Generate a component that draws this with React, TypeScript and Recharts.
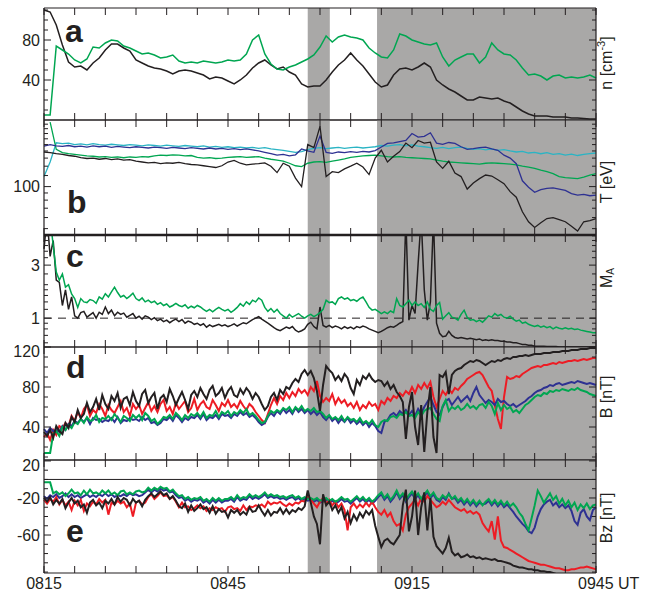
import React from 'react';
import { LineChart, Line, XAxis, YAxis, ReferenceArea, ReferenceLine } from 'recharts';

const INK = '#231f20';
const GREEN = '#00a651';
const RED = '#ed1c24';
const BLUE = '#2e3192';
const CYAN = '#2ab4c4';
const SHADE = '#a9a8a7';
const FONT = '"Liberation Sans", Arial, Helvetica, sans-serif';
const PAD = 20;

// time in minutes after 0815 UT
const timeTicks = [0, 5, 10, 15, 20, 25, 30, 35, 40, 45, 50, 55, 60, 65, 70, 75, 80, 85, 90];
const timeLabels: Record<number, string> = { 0: '0815', 30: '0845', 60: '0915', 90: '0945 UT' };
const shaded = [[43.0, 46.6], [54.3, 90]];

const minutes = Array.from({ length: 91 }, (_, i) => i);
const halfMinutes = Array.from({ length: 181 }, (_, i) => i / 2);

// a: density n [cm^-3], 1 min
const nBlack = [
  110, 108, 95, 75, 58, 53, 54, 50, 57, 62,
  70, 76, 76, 72, 69, 60, 57, 54, 52, 51,
  49, 46, 49, 50, 49, 47, 45, 41, 43, 42,
  39, 36, 40, 45, 52, 57, 60, 55, 51, 53,
  48, 45, 36, 33, 34, 34, 40, 48, 55, 60,
  67, 60, 54, 46, 38, 33, 35, 45, 51, 52,
  50, 53, 57, 53, 40, 35, 31, 28, 24, 20,
  20, 23, 22, 21, 22, 19, 17, 13, 9, 6,
  4, 4, 4, 3, 3, 3, 2, 2, 1.5, 1, 1,
];
const nGreen = [
  5, 5, 74, 70, 66, 60, 57, 61, 73, 72,
  77, 80, 79, 74, 72, 69, 66, 67, 65, 62,
  63, 65, 59, 57, 58, 57, 59, 58, 57, 58,
  60, 59, 60, 66, 80, 85, 66, 56, 51, 50,
  53, 55, 58, 61, 65, 73, 84, 78, 83, 85,
  83, 82, 80, 72, 67, 63, 62, 70, 86, 84,
  80, 78, 76, 75, 77, 63, 54, 60, 63, 66,
  66, 57, 63, 77, 70, 66, 65, 60, 52, 45,
  46, 44, 40, 44, 45, 42, 43, 42, 43, 45, 42,
];

// b: temperature T [eV], 1 min
const tCyan = [
  118, 150, 206, 203, 205, 200, 202, 199, 203, 200,
  198, 201, 199, 197, 200, 198, 196, 199, 197, 195,
  198, 196, 194, 197, 195, 193, 196, 192, 194, 191,
  193, 190, 192, 189, 191, 188, 190, 186, 184, 182,
  179, 176, 178, 184, 188, 190, 187, 189, 191, 188,
  190, 192, 189, 191, 193, 197, 195, 198, 200, 196,
  199, 195, 193, 190, 188, 191, 187, 190, 192, 188,
  185, 187, 183, 186, 182, 184, 180, 177, 179, 174,
  176, 172, 175, 170, 172, 168, 171, 167, 170, 172, 174,
];
const tBlue = [
  195, 200, 196, 194, 197, 193, 195, 192, 196, 193,
  195, 191, 194, 192, 190, 193, 191, 189, 192, 190,
  188, 191, 189, 187, 190, 188, 186, 189, 186, 188,
  185, 187, 184, 186, 183, 180, 176, 172, 168, 170,
  166, 169, 186, 180, 176, 230, 176, 173, 177, 175,
  178, 176, 179, 177, 181, 192, 204, 206, 210, 214,
  240, 226, 229, 243, 205, 201, 207, 204, 193, 185,
  187, 190, 192, 186, 182, 168, 160, 146, 110, 99,
  91, 95, 97, 98, 96, 94, 89, 87, 88, 86, 87,
];
const tGreen = [
  null, 290, 185, 175, 172, 170, 168, 166, 165, 163,
  164, 162, 163, 161, 163, 162, 164, 163, 166, 168,
  167, 169, 168, 166, 167, 162, 160, 161, 159, 160,
  162, 163, 164, 162, 163, 164, 160, 157, 155, 152,
  147, 141, 139, 147, 150, 151, 149, 152, 155, 158,
  162, 164, 166, 167, 168, 166, 164, 163, 164, 162,
  161, 160, 159, 158, 155, 152, 150, 149, 148, 147,
  146, 145, 147, 148, 147, 146, 145, 143, 140, 138,
  135, 131, 128, 124, 118, 116, 115, 114, 117, 121, 124,
];
const tBlack = [
  177, 175, 172, 170, 167, 165, 161, 159, 160, 157,
  159, 156, 158, 155, 156, 152, 150, 148, 149, 146,
  148, 147, 149, 146, 144, 143, 141, 139, 137, 141,
  150, 154, 147, 143, 145, 146, 148, 140, 126, 147,
  140, 115, 100, 200, 190, 270, 118, 128, 126, 134,
  140, 147, 138, 122, 160, 182, 150, 165, 178, 205,
  190, 214, 205, 208, 150, 135, 152, 125, 118, 96,
  106, 114, 121, 119, 112, 105, 92, 84, 66, 56,
  51, 55, 59, 60, 58, 56, 52, 48, 56, 57, 59,
];

// c: Alfven Mach number, 0.5 min
const maBlack = [
  4.2, 8, 3.6, 5, 2.2, 2.1, 1.3, 1.8, 1.2, 1.55,
  1.05, 1.0, 1.12, 1.15, 1.02, 1.07, 1.12, 1.0, 1.13, 1.08,
  1.26, 1.1, 1.18, 1.05, 1.13, 1.08, 1.11, 1.02, 1.06, 1.1,
  1.0, 1.04, 0.98, 1.05, 1.02, 0.97, 1.01, 0.95, 0.98, 0.93,
  0.96, 0.91, 0.95, 0.98, 0.93, 0.97, 0.9, 0.94, 0.92, 0.88,
  0.9, 0.86, 0.89, 0.83, 0.87, 0.84, 0.86, 0.88, 0.85, 0.87,
  0.84, 0.86, 0.89, 0.85, 0.88, 0.91, 0.89, 0.93, 0.97, 1.0,
  1.03, 0.98, 0.94, 0.9, 0.86, 0.82, 0.79, 0.77, 0.8, 0.83,
  0.81, 0.84, 0.78, 0.75, 0.77, 0.8, 0.88, 0.92, 0.84, 0.8,
  1.26, 0.86, 0.83, 0.86, 0.82, 0.85, 0.83, 0.8, 0.84, 0.81,
  0.83, 0.8, 0.84, 0.82, 0.85, 0.83, 0.8, 0.78, 0.76, 0.74,
  0.76, 0.79, 0.82, 0.84, 0.83, 0.86, 0.9, 0.93, 8, 0.96,
  1.3, 1.1, 3.1, 8, 1.8, 0.96, 1.4, 8, 0.9, 0.73,
  0.68, 0.69, 0.76, 0.7, 0.67, 0.66, 0.67, 0.66, 0.65, 0.66,
  0.65, 0.64, 0.65, 0.63, 0.64, 0.63, 0.64, 0.63, 0.63, 0.62,
  0.62, 0.61, 0.61, 0.6, 0.6, 0.59, 0.58, 0.58, 0.57, 0.57,
  0.56, 0.56, 0.56, 0.56, 0.555, 0.555, 0.555, 0.555, 0.55, 0.55,
  0.55, 0.55, 0.55, 0.55, 0.55, 0.55, 0.55, 0.55, 0.55, 0.55, 0.55,
];
const maGreen = [
  null, null, 8, 4.5, 2.6, 2.2, 2.5, 1.9, 2.0, 1.65,
  1.5, 1.25, 1.5, 1.4, 1.38, 1.47, 1.44, 1.36, 1.55, 1.48,
  1.66, 1.55, 1.72, 1.9, 1.7, 1.55, 1.6, 1.5, 1.58, 1.68,
  1.5, 1.44, 1.52, 1.4, 1.45, 1.38, 1.42, 1.33, 1.38, 1.3,
  1.34, 1.26, 1.3, 1.36, 1.3, 1.27, 1.32, 1.23, 1.28, 1.24,
  1.3, 1.26, 1.2, 1.15, 1.2, 1.14, 1.2, 1.25, 1.2, 1.16,
  1.2, 1.13, 1.18, 1.25, 1.35, 1.28, 1.4, 1.33, 1.45, 1.4,
  1.52, 1.45, 1.25, 1.15, 1.22, 1.13, 1.2, 1.1, 1.05, 1.0,
  1.08, 1.02, 1.06, 1.1, 1.04, 1.0, 1.05, 1.08, 1.03, 1.07,
  1.12, 1.2, 1.45, 1.38, 1.4, 1.33, 1.5, 1.55, 1.48, 1.52,
  1.44, 1.47, 1.42, 1.5, 1.55, 1.4, 1.25, 1.18, 1.2, 1.15,
  1.1, 1.14, 1.1, 1.16, 1.12, 1.5, 1.3, 1.26, 1.35, 1.45,
  1.3, 1.4, 1.3, 1.35, 1.25, 1.4, 1.2, 1.15, 1.3, 1.38,
  0.98, 1.05, 1.12, 1.02, 1.0, 0.96, 1.08, 1.18, 1.02, 0.96,
  0.97, 0.93, 0.96, 0.92, 0.98, 1.05, 1.02, 1.1, 1.05, 1.08,
  1.02, 1.0, 1.04, 0.98, 0.94, 0.96, 0.9, 0.92, 0.88, 0.86,
  0.84, 0.86, 0.83, 0.85, 0.82, 0.84, 0.8, 0.83, 0.81, 0.8,
  0.82, 0.8, 0.81, 0.79, 0.8, 0.78, 0.77, 0.76, 0.75, 0.74, 0.74,
];

// d: field magnitude and components B [nT], 0.5 min
const bBlack = [
  35, 31, 37, 29, 41, 36, 33, 44, 39, 50,
  45, 57, 49, 53, 64, 55, 60, 68, 57, 72,
  63, 58, 71, 66, 74, 59, 68, 70, 62, 75,
  66, 61, 73, 77, 64, 70, 74, 58, 69, 72,
  65, 78, 71, 62, 69, 75, 67, 58, 72, 76,
  70, 79, 73, 68, 77, 81, 71, 74, 79, 69,
  76, 80, 72, 70, 78, 73, 79, 75, 68, 74,
  70, 63, 57, 61, 70, 74, 67, 77, 73, 80,
  78, 84, 88, 85, 93, 97, 92, 96, 89, 76,
  56, 82, 101, 97, 94, 87, 91, 86, 93, 89,
  79, 73, 87, 82, 91, 88, 93, 88, 85, 87,
  86, 81, 85, 78, 82, 75, 71, 65, 28, 60,
  75, 40, 22, 62, 15, 55, 80, 30, 14, 92,
  90, 95, 73, 92, 96, 98, 99, 102, 104, 106,
  105, 107, 106, 104, 102, 104, 106, 105, 107, 106,
  108, 109, 108, 110, 110, 111, 111, 112, 111, 112,
  113, 113, 113, 114, 114, 114, 115, 115, 115, 116,
  116, 116, 117, 117, 117, 118, 118, 118, 119, 119, 119,
];
const bRed = [
  30, 34, 27, 37, 32, 41, 39, 44, 41, 51,
  46, 55, 49, 58, 62, 51, 57, 54, 63, 58,
  51, 62, 57, 54, 60, 66, 55, 59, 51, 63,
  58, 62, 53, 59, 65, 56, 61, 55, 63, 67,
  56, 60, 53, 64, 58, 62, 66, 55, 59, 68,
  57, 63, 66, 60, 58, 67, 62, 56, 64, 61,
  67, 60, 63, 59, 66, 61, 57, 63, 60, 55,
  51, 47, 44, 53, 62, 69, 63, 71, 67, 74,
  69, 75, 71, 78, 74, 77, 72, 80, 76, 86,
  71, 65, 69, 66, 73, 63, 69, 64, 67, 61,
  64, 59, 65, 57, 62, 59, 65, 61, 63, 57,
  66, 63, 69, 66, 71, 69, 74, 71, 76, 73,
  80, 74, 82, 78, 84, 79, 85, 70, 60, 68,
  76, 72, 78, 74, 79, 77, 81, 84, 88, 90,
  92, 94, 95, 92, 86, 80, 76, 62, 48, 38,
  70, 90, 88, 89, 91, 90, 93, 95, 97, 99,
  100, 101, 100, 102, 102, 103, 104, 103, 105, 104,
  105, 106, 106, 107, 106, 107, 108, 107, 108, 109, 109,
];
const bGreen = [
  14, 14, 14, 33, 36, 31, 40, 37, 42, 39,
  45, 43, 48, 44, 50, 46, 47, 52, 45, 49,
  48, 51, 47, 53, 49, 45, 51, 49, 46, 52,
  49, 52, 47, 54, 51, 46, 48, 43, 46, 50,
  49, 52, 48, 54, 51, 47, 52, 49, 53, 51,
  54, 50, 55, 49, 52, 51, 56, 50, 55, 53,
  56, 51, 55, 53, 57, 54, 58, 52, 54, 51,
  47, 44, 45, 51, 56, 54, 57, 55, 59, 57,
  60, 55, 60, 57, 61, 56, 58, 56, 59, 55,
  56, 53, 49, 52, 48, 50, 47, 51, 46, 50,
  47, 48, 45, 49, 44, 46, 43, 47, 42, 40,
  45, 47, 46, 50, 51, 49, 53, 52, 55, 51,
  52, 49, 55, 51, 56, 58, 59, 53, 48, 46,
  61, 67, 56, 60, 58, 61, 57, 59, 63, 59,
  61, 58, 62, 63, 59, 65, 61, 53, 64, 57,
  62, 58, 60, 55, 57, 54, 58, 62, 64, 67,
  70, 72, 71, 74, 73, 76, 75, 77, 76, 78,
  77, 76, 78, 77, 79, 77, 76, 75, 73, 72, 71,
];
const bBlue = [
  38, 34, 39, 36, 37, 35, 41, 37, 43, 41,
  46, 44, 48, 45, 49, 43, 49, 47, 48, 45,
  47, 46, 49, 45, 50, 44, 47, 46, 49, 47,
  48, 46, 50, 47, 49, 44, 45, 42, 44, 48,
  47, 50, 46, 52, 49, 45, 49, 47, 50, 49,
  52, 48, 53, 47, 50, 49, 52, 48, 53, 51,
  52, 49, 53, 51, 55, 52, 54, 50, 52, 49,
  45, 42, 44, 50, 54, 51, 56, 53, 58, 54,
  57, 53, 59, 55, 58, 54, 57, 53, 56, 52,
  55, 50, 47, 51, 46, 49, 44, 48, 45, 49,
  44, 47, 43, 46, 42, 45, 40, 44, 41, 36,
  34, 45, 47, 52, 54, 51, 56, 53, 57, 52,
  56, 51, 58, 53, 60, 65, 70, 62, 55, 52,
  60, 66, 68, 62, 66, 70, 65, 68, 71, 66,
  74, 80, 72, 68, 64, 67, 65, 62, 68, 65,
  66, 63, 61, 63, 60, 62, 64, 66, 69, 71,
  74, 76, 77, 79, 80, 82, 81, 83, 84, 82,
  83, 84, 85, 84, 86, 85, 84, 83, 84, 83, 82,
];

// e: Bz [nT], 0.5 min
const bzBlack = [
  -20, -24, -19, -27, -22, -26, -21, -31, -25, -20,
  -26, -23, -30, -27, -36, -25, -22, -28, -25, -31,
  -23, -26, -21, -27, -19, -24, -20, -22, -28, -21,
  -25, -23, -29, -22, -18, -15, -19, -16, -13, -17,
  -15, -21, -18, -23, -29, -31, -26, -35, -28, -34,
  -31, -27, -32, -30, -36, -29, -37, -32, -35, -34,
  -41, -33, -36, -33, -38, -35, -38, -30, -35, -34,
  -28, -34, -39, -33, -39, -35, -36, -31, -37, -32,
  -37, -33, -35, -31, -33, -29, -12, -25, -40, -48,
  -70, -16, -28, -24, -33, -28, -36, -30, -42, -35,
  -47, -38, -44, -36, -41, -34, -38, -33, -50, -62,
  -73, -66, -64, -68, -70, -65, -60, -28, -11, -56,
  -40, -12, -60, -30, -14, -55, -20, -62, -72, -76,
  -80, -74, -63, -78, -82, -80, -84, -83, -81, -84,
  -83, -85, -84, -86, -85, -86, -87, -86, -88, -88,
  -89, -90, -91, -93, -94, -95, -95, -96, -97, -97,
  -98, -98, -99, -99, -100, -100, -101, -102, -103, -104,
  -105, -106, -107, -108, -109, -110, -111, -112, -113, -114, -115,
];
const bzRed = [
  -22, -26, -21, -24, -19, -27, -22, -28, -24, -33,
  -23, -28, -22, -34, -26, -29, -24, -27, -21, -25,
  -22, -38, -25, -27, -23, -26, -24, -30, -26, -40,
  -25, -23, -27, -25, -19, -16, -21, -18, -14, -18,
  -17, -21, -19, -24, -30, -25, -30, -29, -33, -31,
  -28, -31, -29, -34, -31, -33, -30, -32, -31, -35,
  -30, -29, -32, -31, -34, -28, -33, -29, -30, -28,
  -29, -27, -30, -24, -27, -25, -26, -24, -27, -29,
  -26, -28, -25, -26, -23, -24, -18, -22, -26, -30,
  -24, -20, -26, -22, -28, -24, -30, -26, -33, -55,
  -30, -26, -31, -27, -30, -25, -29, -24, -30, -35,
  -38, -33, -40, -36, -45, -50, -48, -55, -38, -30,
  -26, -22, -28, -20, -24, -18, -22, -26, -30, -28,
  -24, -27, -22, -26, -30, -32, -34, -32, -36, -34,
  -37, -35, -38, -47, -52, -56, -45, -65, -40, -66,
  -73, -74, -76, -78, -80, -82, -84, -86, -88, -89,
  -90, -91, -92, -92, -93, -94, -95, -96, -96, -97,
  -98, -98, -97, -97, -96, -95, -95, -94, -95, -96, -97,
];
const bzGreen = [
  -3, -3, -3, -15, -13, -16, -14, -18, -15, -11,
  -15, -14, -17, -12, -16, -11, -15, -14, -16, -12,
  -15, -12, -16, -14, -17, -13, -12, -16, -14, -16,
  -13, -12, -14, -13, -9, -12, -9, -11, -8, -10,
  -9, -13, -11, -15, -18, -17, -21, -19, -22, -20,
  -21, -19, -23, -21, -24, -20, -23, -20, -23, -21,
  -21, -19, -22, -17, -21, -19, -20, -16, -19, -17,
  -19, -17, -14, -18, -16, -18, -17, -19, -18, -20,
  -18, -17, -20, -18, -21, -19, -21, -20, -22, -20,
  -23, -22, -20, -23, -21, -24, -22, -19, -22, -21,
  -24, -21, -18, -22, -19, -23, -20, -24, -21, -17,
  -14, -20, -16, -22, -18, -12, -19, -15, -22, -17,
  -13, -19, -15, -21, -16, -12, -18, -14, -20, -22,
  -17, -20, -16, -21, -18, -23, -20, -25, -21, -26,
  -22, -27, -23, -28, -24, -21, -26, -22, -27, -23,
  -28, -24, -29, -26, -30, -36, -40, -48, -55, -42,
  -28, -12, -18, -25, -20, -15, -22, -18, -26, -21,
  -28, -23, -30, -25, -33, -27, -31, -26, -32, -28, -27,
];
const bzBlue = [
  -18, -21, -17, -19, -16, -20, -18, -15, -19, -16,
  -19, -17, -20, -18, -16, -19, -17, -19, -16, -18,
  -15, -18, -16, -19, -17, -18, -16, -18, -15, -17,
  -16, -18, -17, -14, -11, -14, -11, -13, -10, -12,
  -11, -14, -13, -17, -20, -19, -23, -21, -24, -22,
  -23, -21, -25, -23, -26, -22, -25, -22, -25, -23,
  -23, -21, -24, -19, -23, -21, -22, -18, -21, -19,
  -21, -19, -16, -20, -18, -20, -19, -21, -20, -22,
  -20, -19, -22, -20, -23, -21, -23, -22, -24, -22,
  -25, -24, -22, -25, -23, -26, -24, -21, -24, -23,
  -26, -23, -20, -24, -21, -25, -22, -26, -23, -19,
  -16, -22, -18, -24, -20, -14, -21, -17, -24, -19,
  -15, -21, -17, -23, -18, -14, -20, -16, -22, -24,
  -19, -22, -15, -21, -20, -25, -22, -27, -23, -28,
  -24, -29, -25, -27, -26, -23, -28, -24, -29, -25,
  -30, -27, -31, -35, -40, -44, -48, -51, -56, -58,
  -52, -40, -32, -27, -24, -22, -28, -25, -30, -27,
  -31, -28, -34, -45, -49, -36, -32, -40, -44, -33, -30,
];

const TimeTick = (props: any) => {
  const { x, y, payload, side, showLabels } = props;
  const dir = side === 'bottom' ? -1 : 1;
  const label = showLabels ? timeLabels[payload.value] : undefined;
  const isEnd = payload.value === 90;
  return (
    <g>
      <line x1={x} y1={y} x2={x} y2={y + dir * 7} stroke={INK} strokeWidth={1} />
      {label && (
        <text x={isEnd ? x - 18 : x} y={y + 16} textAnchor={isEnd ? 'start' : 'middle'} fontFamily={FONT} fontSize={16} fill={INK}>
          {label}
        </text>
      )}
    </g>
  );
};

const ValueTick = (props: any) => {
  const { x, y, payload, side, major, nudge } = props;
  const isMajor = major.includes(payload.value);
  const dir = side === 'left' ? 1 : -1;
  const len = isMajor ? 7 : 4;
  const shift = nudge && nudge[payload.value] ? nudge[payload.value] : 0;
  return (
    <g>
      <line x1={x} y1={y} x2={x + dir * len} y2={y} stroke={INK} strokeWidth={1} />
      {isMajor && side === 'left' && (
        <text x={x - 4} y={y + shift} dy="0.35em" textAnchor="end" fontFamily={FONT} fontSize={16} fill={INK}>
          {payload.value}
        </text>
      )}
    </g>
  );
};

function Panel(props: any) {
  const { top, height, times, series, domain, scale = 'linear', major, minor, lineWidth, refY, refDash, showTime, nudge, topWidth = 1.2 } = props;
  const rows = times.map((t: number, i: number) => {
    const row: any = { t };
    series.forEach((s: any) => {
      row[s.key] = s.values[i] === undefined ? null : s.values[i];
    });
    return row;
  });
  const ticks = [...major, ...minor].sort((a, b) => a - b);
  const axisLine = { stroke: INK, strokeWidth: 1.2 };
  return (
    <div style={{ position: 'absolute', left: 0, top: top - PAD }}>
      <LineChart width={651} height={height + 2 * PAD} data={rows} margin={{ top: 0, right: 0, bottom: 0, left: 0 }}>
        {shaded.map(([a, b]) => (
          <ReferenceArea key={a} x1={a} x2={b} fill={SHADE} fillOpacity={1} stroke="none" />
        ))}
        {refY !== undefined && (
          <ReferenceLine y={refY} stroke={INK} strokeWidth={1} strokeDasharray={refDash} />
        )}
        <XAxis dataKey="t" type="number" domain={[0, 90]} ticks={timeTicks} interval={0} height={PAD}
          tickSize={0} tickMargin={0} tickLine={false} axisLine={axisLine}
          tick={<TimeTick side="bottom" showLabels={showTime} />} />
        <XAxis xAxisId="top" orientation="top" dataKey="t" type="number" domain={[0, 90]} ticks={timeTicks}
          interval={0} height={PAD} tickSize={0} tickMargin={0} tickLine={false}
          axisLine={{ stroke: INK, strokeWidth: topWidth }}
          tick={<TimeTick side="top" />} />
        <YAxis type="number" scale={scale} domain={domain} allowDataOverflow ticks={ticks} interval={0} width={44}
          tickSize={0} tickMargin={0} tickLine={false} axisLine={axisLine}
          tick={<ValueTick side="left" major={major} nudge={nudge} />} />
        <YAxis yAxisId="r" orientation="right" type="number" scale={scale} domain={domain} allowDataOverflow
          ticks={ticks} interval={0} width={55} tickSize={0} tickMargin={0} tickLine={false} axisLine={axisLine}
          tick={<ValueTick side="right" major={major} />} />
        {series.map((s: any) => (
          <Line key={s.key} type="linear" dataKey={s.key} stroke={s.color} strokeWidth={lineWidth}
            dot={false} activeDot={false} isAnimationActive={false} />
        ))}
      </LineChart>
    </div>
  );
}

const letterStyle = { fontFamily: FONT, fontSize: 32, fontWeight: 700, fill: INK };
const unitStyle = { fontFamily: FONT, fontSize: 16, fill: INK };

export default function App() {
  return (
    <div style={{ position: 'absolute', left: 0, top: 0, width: 651, height: 593, background: '#fff' }}>
      <Panel top={8} height={112} times={minutes} domain={[0, 112]} lineWidth={1.5}
        major={[40, 80]} minor={[10, 20, 30, 50, 60, 70, 90, 100, 110]}
        series={[
          { key: 'nBlack', color: INK, values: nBlack },
          { key: 'nGreen', color: GREEN, values: nGreen },
        ]} />
      <Panel top={120} height={115} times={minutes} domain={[45, 300]} scale="log" lineWidth={1.3}
        major={[100]} minor={[50, 60, 70, 80, 90, 120, 140, 160, 180, 200, 220, 240, 260, 280]}
        series={[
          { key: 'tCyan', color: CYAN, values: tCyan },
          { key: 'tGreen', color: GREEN, values: tGreen },
          { key: 'tBlue', color: BLUE, values: tBlue },
          { key: 'tBlack', color: INK, values: tBlack },
        ]} />
      <Panel top={235} height={112} times={halfMinutes} domain={[0.55, 5.6]} scale="log" lineWidth={1.5}
        major={[1, 3]} minor={[0.6, 0.7, 0.8, 0.9, 1.2, 1.4, 1.6, 1.8, 2, 2.5, 3.5, 4, 4.5, 5, 5.5]}
        refY={1} refDash="8 6" topWidth={2.5}
        series={[
          { key: 'maBlack', color: INK, values: maBlack },
          { key: 'maGreen', color: GREEN, values: maGreen },
        ]} />
      <Panel top={347} height={113} times={halfMinutes} domain={[7, 120]} lineWidth={2}
        major={[40, 80, 120]} minor={[10, 20, 30, 50, 60, 70, 90, 100, 110]} nudge={{ 120: 4 }}
        series={[
          { key: 'bRed', color: RED, values: bRed },
          { key: 'bBlue', color: BLUE, values: bBlue },
          { key: 'bGreen', color: GREEN, values: bGreen },
          { key: 'bBlack', color: INK, values: bBlack },
        ]} />
      <Panel top={460} height={113} times={halfMinutes} domain={[-101, 21]} lineWidth={2}
        major={[20, -20, -60]} minor={[10, 0, -10, -30, -40, -50, -70, -80, -90, -100]} nudge={{ 20: 4 }}
        refY={0} showTime
        series={[
          { key: 'bzBlue', color: BLUE, values: bzBlue },
          { key: 'bzRed', color: RED, values: bzRed },
          { key: 'bzGreen', color: GREEN, values: bzGreen },
          { key: 'bzBlack', color: INK, values: bzBlack },
        ]} />
      <svg width={651} height={593} style={{ position: 'absolute', left: 0, top: 0, pointerEvents: 'none' }}>
        <text x={65} y={42} style={letterStyle}>a</text>
        <text x={67} y={213} style={letterStyle}>b</text>
        <text x={66} y={267} style={letterStyle}>c</text>
        <text x={66} y={378} style={letterStyle}>d</text>
        <text x={66} y={542} style={letterStyle}>e</text>
        <text transform="translate(606,63) rotate(-90)" textAnchor="middle" dominantBaseline="central" style={unitStyle}>
          n [cm<tspan dy={-5} fontSize={11}>-3</tspan><tspan dy={5}>]</tspan>
        </text>
        <text transform="translate(606,182) rotate(-90)" textAnchor="middle" dominantBaseline="central" style={unitStyle}>T [eV]</text>
        <text transform="translate(606,278) rotate(-90)" textAnchor="middle" dominantBaseline="central" style={unitStyle}>
          M<tspan dy={4} fontSize={10}>A</tspan>
        </text>
        <text transform="translate(606,397) rotate(-90)" textAnchor="middle" dominantBaseline="central" style={unitStyle}>B [nT]</text>
        <text transform="translate(606,518) rotate(-90)" textAnchor="middle" dominantBaseline="central" style={unitStyle}>Bz [nT]</text>
      </svg>
    </div>
  );
}
